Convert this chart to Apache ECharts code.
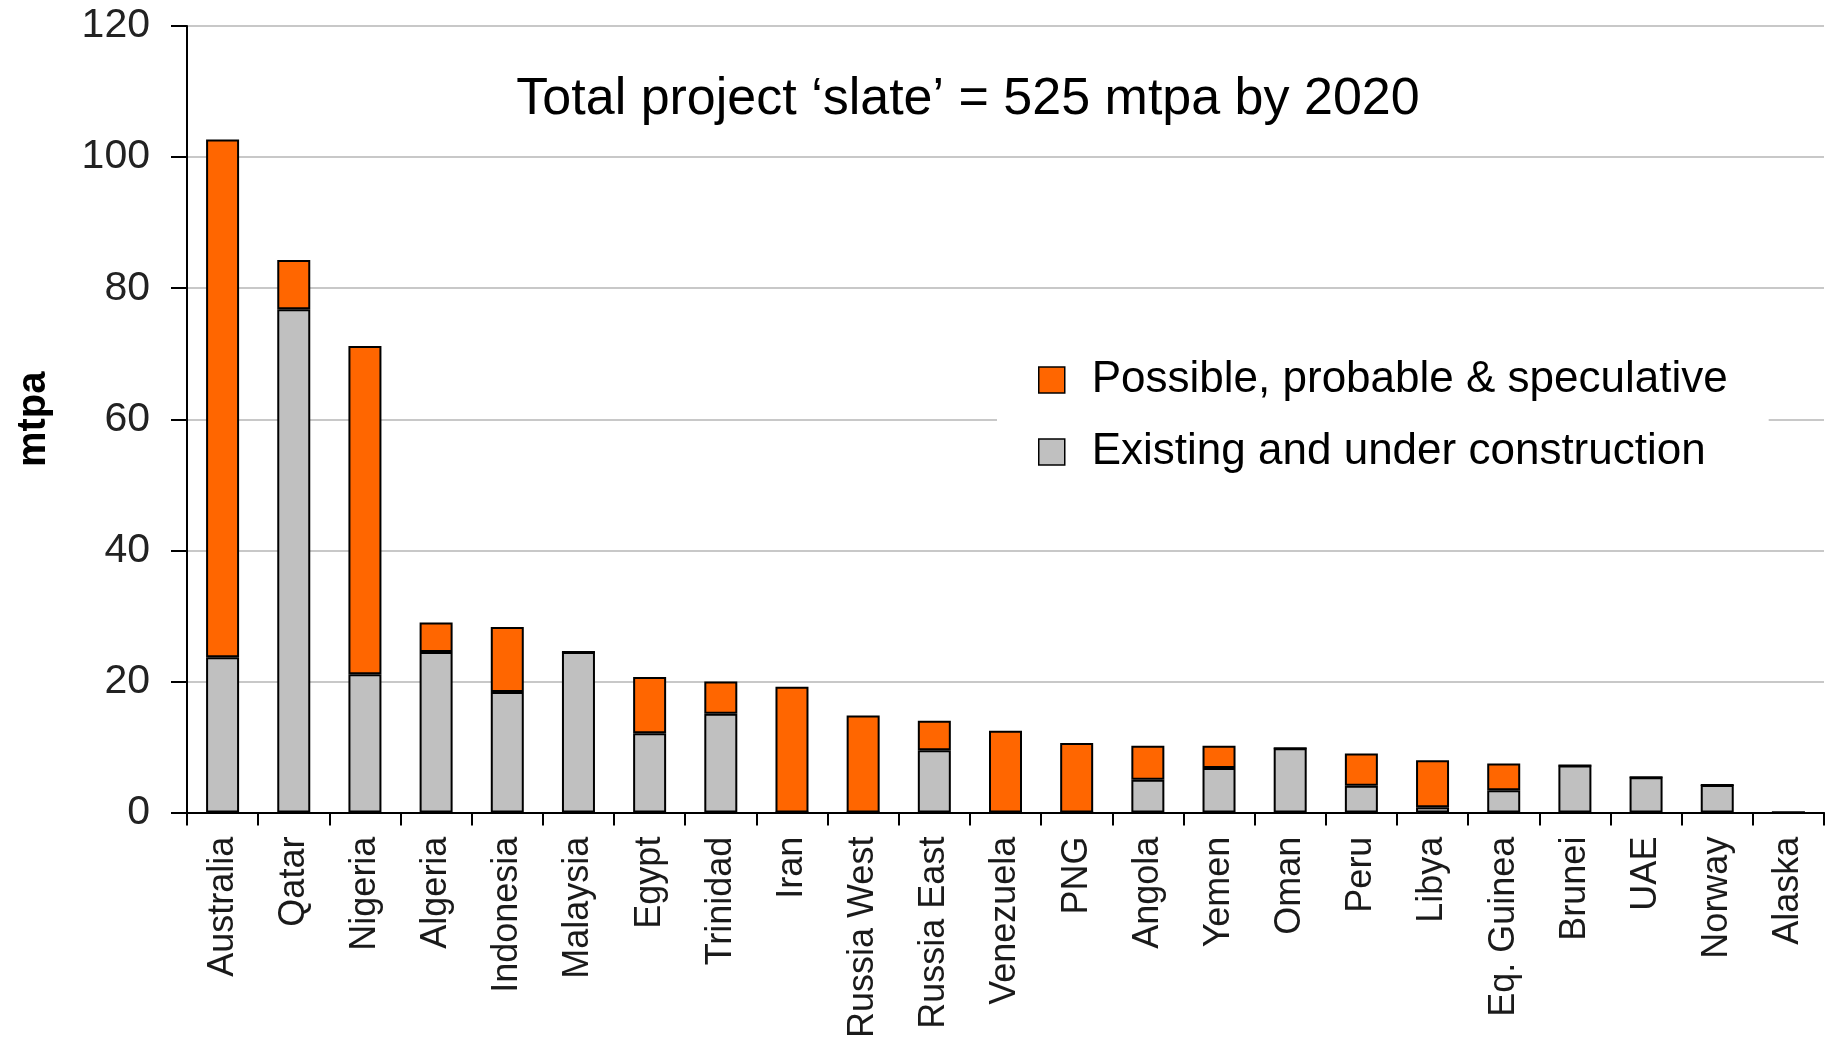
<!DOCTYPE html>
<html>
<head>
<meta charset="utf-8">
<script src="https://cdn.jsdelivr.net/npm/echarts@6/dist/echarts.min.js"></script>
<style>
html,body{margin:0;padding:0;background:#fff;}
#chart{width:1829px;height:1041px;}
</style>
</head>
<body>
<div id="chart"></div>
<script>
var categories = ['Australia','Qatar','Nigeria','Algeria','Indonesia','Malaysia','Egypt','Trinidad','Iran','Russia West','Russia East','Venezuela','PNG','Angola','Yemen','Oman','Peru','Libya','Eq. Guinea','Brunei','UAE','Norway','Alaska'];
var existing = [23.7, 76.8, 21.1, 24.5, 18.4, 24.5, 12.1, 15.1, 0, 0, 9.5, 0, 0, 5.0, 6.8, 9.8, 4.1, 0.8, 3.4, 7.2, 5.4, 4.2, 0];
var possible = [79.0, 7.5, 50.1, 4.5, 9.9, 0, 8.6, 4.9, 19.2, 14.8, 4.5, 12.5, 10.6, 5.2, 3.4, 0, 4.9, 7.2, 4.1, 0, 0, 0, 0];
var seriesNames = ['Existing and under construction', 'Possible, probable & speculative'];
var titleText = 'Total project \u2018slate\u2019 = 525 mtpa by 2020';
var yName = 'mtpa';

var FONT = '"Liberation Sans", Arial, sans-serif';
var chart = echarts.init(document.getElementById('chart'), null, {renderer: 'canvas'});
var option = {
  animation: false,
  backgroundColor: '#fff',
  grid: {left: 187, right: 5, top: 26, bottom: 227, containLabel: false},
  graphic: [{
    type: 'text', x: 968, y: 100,
    style: {text: titleText, font: '52px ' + FONT, fill: '#000', textAlign: 'center', textVerticalAlign: 'middle'}
  }],
  legend: {
    orient: 'vertical',
    left: 997, top: 335,
    data: [seriesNames[1], seriesNames[0]],
    backgroundColor: '#fff',
    padding: [22, 41, 22, 41],
    itemWidth: 26, itemHeight: 26, itemGap: 26,
    icon: 'rect',
    itemStyle: {borderColor: '#000', borderWidth: 1.5},
    textStyle: {fontFamily: FONT, fontSize: 44, color: '#000', lineHeight: 46, padding: [0, 0, 0, 22]}
  },
  xAxis: {
    type: 'category',
    data: categories,
    axisLine: {lineStyle: {color: '#000', width: 2}},
    axisTick: {show: true, length: 13, lineStyle: {color: '#000', width: 2}},
    axisLabel: {rotate: 90, interval: 0, margin: 24, fontFamily: FONT, fontSize: 36, color: '#1a1a1a'}
  },
  yAxis: {
    type: 'value', min: 0, max: 120, interval: 20,
    name: yName, nameLocation: 'middle', nameGap: 133, nameRotate: 90,
    nameTextStyle: {fontFamily: FONT, fontSize: 40, fontWeight: 'bold', color: '#000'},
    axisLine: {show: true, lineStyle: {color: '#000', width: 2}},
    axisTick: {show: true, length: 16, inside: false, lineStyle: {color: '#000', width: 2}},
    axisLabel: {margin: 37, fontFamily: FONT, fontSize: 41, color: '#222'},
    splitLine: {show: true, lineStyle: {color: '#c8c8c8', width: 2}}
  },
  series: [
    {
      name: seriesNames[0], type: 'bar', stack: 'total', data: existing,
      barWidth: 33,
      itemStyle: {color: '#c0c0c0', borderColor: '#000', borderWidth: 2}
    },
    {
      name: seriesNames[1], type: 'bar', stack: 'total', data: possible,
      barWidth: 33,
      itemStyle: {color: '#ff6600', borderColor: '#000', borderWidth: 2}
    }
  ]
};
chart.setOption(option);
</script>
</body>
</html>
